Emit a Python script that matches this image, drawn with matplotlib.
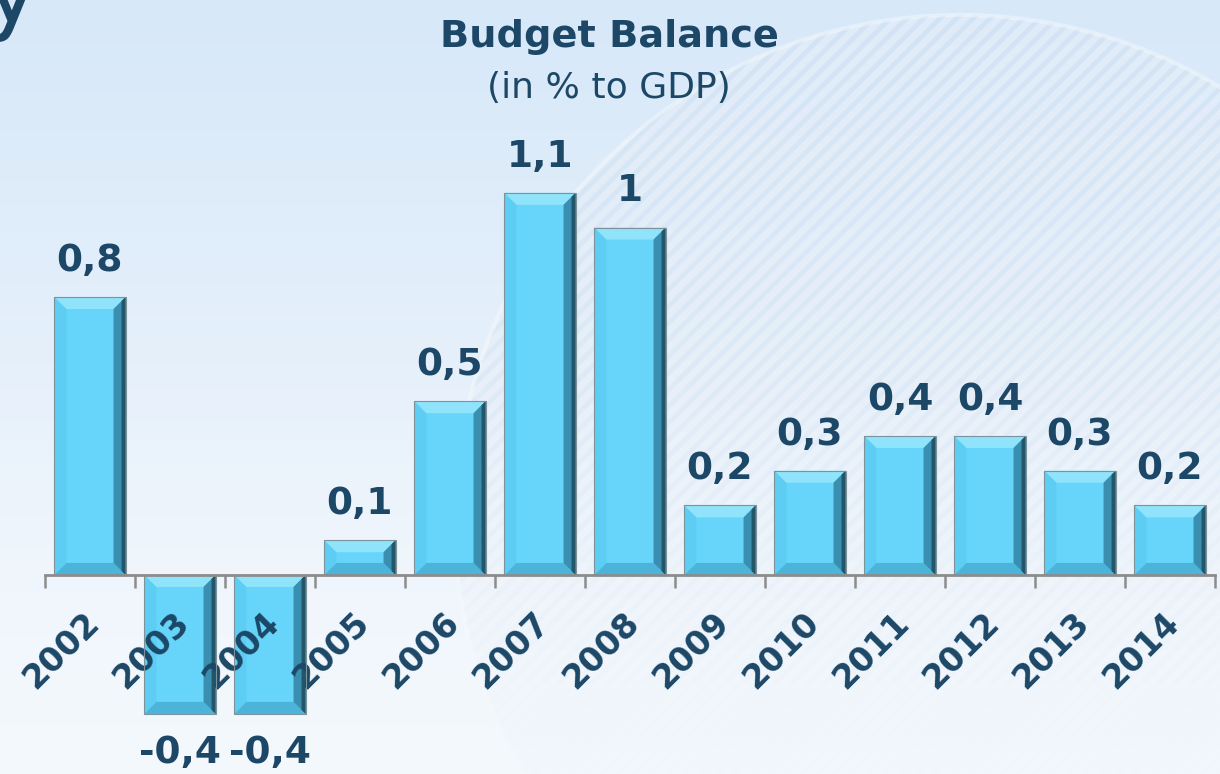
import numpy as np
import matplotlib
matplotlib.use("Agg")
import matplotlib.pyplot as plt
from matplotlib.patches import Polygon, Circle
from matplotlib.transforms import ScaledTranslation

years = ["2002", "2003", "2004", "2005", "2006", "2007", "2008",
         "2009", "2010", "2011", "2012", "2013", "2014"]
balance = [0.8, -0.4, -0.4, 0.1, 0.5, 1.1, 1.0, 0.2, 0.3, 0.4, 0.4, 0.3, 0.2]

title = "Budget Balance"
subtitle = "(in % to GDP)"

navy = "#1c4766"
face = "#66d5f9"
top_col = "#8fe4fb"
right_col = "#3a8fb0"
right_dark = "#22566b"
bottom_col = "#4cb4d9"
left_col = "#5ecdf3"
outline = "#7d939c"

plt.rcParams["font.family"] = ["DejaVu Sans"]
plt.rcParams["hatch.linewidth"] = 5

fig = plt.figure(figsize=(12.2, 7.74), dpi=100)

# background: soft vertical gradient plus a faint striped disc (pixel space)
bg = fig.add_axes([0, 0, 1, 1], zorder=-10)
grad = np.linspace(0, 1, 256).reshape(-1, 1)
cmap = matplotlib.colors.LinearSegmentedColormap.from_list("bg", ["#d7e8f9", "#f5f9fd"])
bg.imshow(grad, aspect="auto", cmap=cmap, extent=[0, 1220, 774, 0], zorder=0)
bg.add_patch(Circle((960, 520), 505, facecolor="#c6d8ec", edgecolor="none",
                    alpha=0.25, zorder=1))
bg.add_patch(Circle((960, 520), 505, facecolor="none", edgecolor="white",
                    hatch="//", lw=0, alpha=0.3, zorder=2))
bg.add_patch(Circle((960, 520), 505, facecolor="none", edgecolor="white",
                    lw=3, alpha=0.35, zorder=3))
# fade the disc out towards the bottom of the slide
fade = np.zeros((256, 1, 4))
fade[..., :3] = matplotlib.colors.to_rgb("#f3f8fd")
fade[:, 0, 3] = np.clip((np.linspace(0, 1, 256) - 0.45) / 0.55, 0, 1) * 0.85
bg.imshow(fade, aspect="auto", extent=[0, 1220, 774, 0], zorder=4)
bg.set_xlim(0, 1220)
bg.set_ylim(774, 0)
bg.axis("off")

ax = fig.add_axes([45 / 1220, 0, 1170 / 1220, 1])
ax.patch.set_alpha(0)
x = np.arange(len(years))
ax.set_xlim(-0.5, len(years) - 0.5)
ax.set_ylim(-0.573, 1.655)

bars = ax.bar(x, balance, width=0.79, color=face, edgecolor="none", zorder=1)

# bevel edges, ~12 px deep
p0 = ax.transData.transform((0, 0))
p1 = ax.transData.transform((1, 1))
ux = 1 / (p1[0] - p0[0])
uy = 1 / (p1[1] - p0[1])
bx, by = 12 * ux, 12 * uy
for b in bars:
    x0, x1 = b.get_x(), b.get_x() + b.get_width()
    lo = min(b.get_y(), b.get_y() + b.get_height())
    hi = max(b.get_y(), b.get_y() + b.get_height())
    faces = [
        ([(x0, lo), (x0, hi), (x0 + bx, hi - by), (x0 + bx, lo + by)], left_col),
        ([(x0, lo), (x1, lo), (x1 - bx, lo + by), (x0 + bx, lo + by)], bottom_col),
        ([(x0, hi), (x1, hi), (x1 - bx, hi - by), (x0 + bx, hi - by)], top_col),
        ([(x1, hi), (x1, lo), (x1 - bx, lo + by), (x1 - bx, hi - by)], right_col),
        ([(x1, hi), (x1, lo), (x1 - 4 * ux, lo + 4 * uy), (x1 - 4 * ux, hi - 4 * uy)], right_dark),
    ]
    for pts, c in faces:
        ax.add_patch(Polygon(pts, closed=True, facecolor=c, edgecolor="none", zorder=1.5))
    ax.add_patch(Polygon([(x0, lo), (x0, hi), (x1, hi), (x1, lo)], closed=True,
                         fill=False, edgecolor=outline, lw=0.8, zorder=1.6))

# value labels
for xi, v in zip(x, balance):
    txt = f"{v:g}".replace(".", ",")
    if v >= 0:
        ax.annotate(txt, (xi, v), xytext=(0, 13), textcoords="offset points",
                    ha="center", va="bottom", fontsize=27, fontweight="bold", color=navy)
    else:
        ax.annotate(txt, (xi, v), xytext=(0, -15), textcoords="offset points",
                    ha="center", va="top", fontsize=27, fontweight="bold", color=navy)

# axis styling
for s in ["left", "right", "top"]:
    ax.spines[s].set_visible(False)
ax.spines["bottom"].set_position(("data", 0))
ax.spines["bottom"].set_color("#8c8c8c")
ax.spines["bottom"].set_linewidth(2)
ax.spines["bottom"].set_zorder(3)
ax.set_yticks([])
ax.set_xticks(x, years)
ax.set_xticks(np.arange(len(years) + 1) - 0.5, minor=True)
ax.tick_params(axis="x", which="major", length=0, labelsize=24, labelcolor=navy)
ax.tick_params(axis="x", which="minor", length=9, width=1.8, color="#8c8c8c", direction="out")
off = ScaledTranslation(4 / 100, -38 / 100, fig.dpi_scale_trans)
for lab in ax.get_xticklabels():
    lab.set_fontweight("bold")
    lab.set_rotation(45)
    lab.set_ha("right")
    lab.set_va("center")
    lab.set_rotation_mode("anchor")
    lab.set_transform(lab.get_transform() + off)

fig.text(609 / 1220, 1 - 47 / 774, title, ha="center", va="baseline",
         fontsize=27.5, fontweight="bold", color=navy)
fig.text(609 / 1220, 1 - 98 / 774, subtitle, ha="center", va="baseline",
         fontsize=26, color=navy)
fig.text(40 / 1220, 1 - 22 / 774, "y", ha="right", va="baseline", fontsize=70, color=navy)

fig.savefig("out.png", dpi=100)
